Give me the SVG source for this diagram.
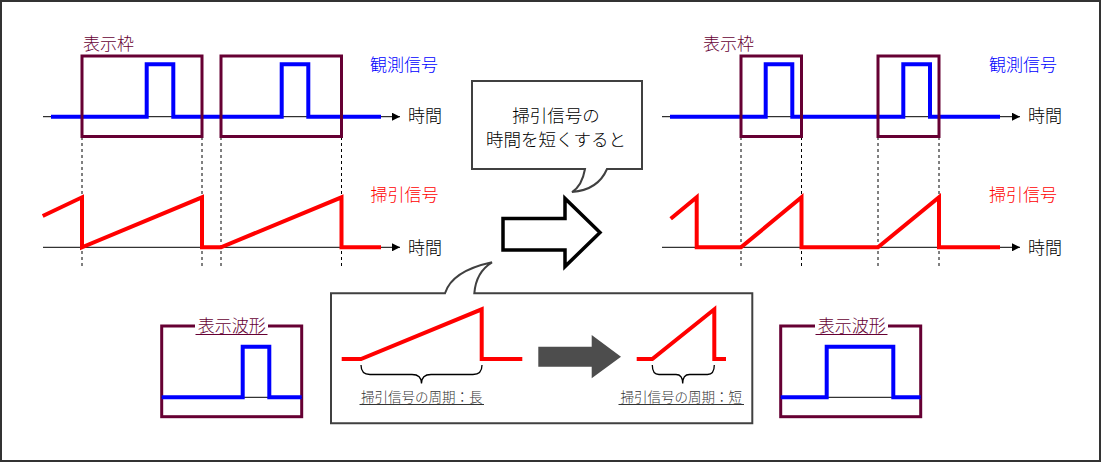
<svg xmlns="http://www.w3.org/2000/svg" width="1102" height="463" viewBox="0 0 1102 463">
<style>
text{font-family:"Noto Sans CJK JP","Noto Sans",sans-serif;font-weight:300;}
.lbl{font-size:17px;}
.maroon{fill:#660033;}
.blueT{fill:#0000ff;}
.redT{fill:#ff0000;}
.blk{fill:#000;}
.frame{fill:none;stroke:#660033;stroke-width:3;}
.sig{fill:none;stroke:#0000ff;stroke-width:4;stroke-linejoin:miter;}
.saw{fill:none;stroke:#ff0000;stroke-width:4;stroke-linejoin:miter;}
.axis{fill:none;stroke:#000;stroke-width:1;marker-end:url(#arr);}
.dash{stroke:#000;stroke-width:1;stroke-dasharray:3,3;}
.brace{fill:none;stroke:#000;stroke-width:1.3;}
.small{font-size:13.5px;fill:#333;}
</style>
<defs>
<marker id="arr" viewBox="0 0 10 10" refX="10" refY="5" markerWidth="8" markerHeight="8" markerUnits="userSpaceOnUse" orient="auto">
<path d="M0,0 L10,5 L0,10 Z" fill="#000"/>
</marker>
</defs>
<rect x="1" y="1" width="1099" height="460" fill="#fff" stroke="#333" stroke-width="2"/>

<g id="connectors">
<line class="dash" x1="82" y1="137" x2="82" y2="267"/>
<line class="dash" x1="202" y1="137" x2="202" y2="267"/>
<line class="dash" x1="221" y1="137" x2="221" y2="267"/>
<line class="dash" x1="341.5" y1="137" x2="341.5" y2="267"/>
<line class="dash" x1="741" y1="137" x2="741" y2="267"/>
<line class="dash" x1="801.5" y1="137" x2="801.5" y2="267"/>
<line class="dash" x1="878" y1="137" x2="878" y2="267"/>
<line class="dash" x1="939" y1="137" x2="939" y2="267"/>
</g>

<g id="left-observed">
<line class="axis" x1="43" y1="116.7" x2="400" y2="116.7"/>
<path class="sig" d="M51,116.7 H146.7 V64.3 H173.3 V116.7 H281.7 V64.3 H308.3 V116.7 H381"/>
<rect class="frame" x="82" y="56" width="120" height="80.5"/>
<rect class="frame" x="221" y="56" width="120.5" height="80.5"/>
<text class="lbl maroon" x="83" y="50">表示枠</text>
<text class="lbl blueT" x="370" y="70.7">観測信号</text>
<text class="lbl blk" x="408" y="122.3">時間</text>
</g>

<g id="left-sweep">
<line class="axis" x1="43" y1="247.3" x2="400" y2="247.3"/>
<path class="saw" d="M42.7,216 L82,197.3 V247.3 L202,197.3 V247.3 H221 L341.5,197.3 V247.3 H381"/>
<text class="lbl redT" x="370.5" y="201">掃引信号</text>
<text class="lbl blk" x="408" y="254">時間</text>
</g>

<g id="right-observed">
<line class="axis" x1="662" y1="116.7" x2="1020" y2="116.7"/>
<path class="sig" d="M670,116.7 H765.7 V64.3 H792.3 V116.7 H903.3 V64.3 H930 V116.7 H1000"/>
<rect class="frame" x="741" y="56" width="60.5" height="80.5"/>
<rect class="frame" x="878" y="56" width="61" height="80.5"/>
<text class="lbl maroon" x="703" y="50">表示枠</text>
<text class="lbl blueT" x="989" y="70.7">観測信号</text>
<text class="lbl blk" x="1028" y="122.3">時間</text>
</g>

<g id="right-sweep">
<line class="axis" x1="662" y1="247.3" x2="1020" y2="247.3"/>
<path class="saw" d="M670.7,218.7 L696.7,197.3 V247.3 H741 L801.5,197.3 V247.3 H878 L939,197.3 V247.3 H1000"/>
<text class="lbl redT" x="989" y="201">掃引信号</text>
<text class="lbl blk" x="1028" y="254">時間</text>
</g>

<g id="callout-top">
<path d="M472,81 H642 V169 H607 Q598,190 572,192 Q582,186 585,169 H472 Z" fill="#fff" stroke="#404040" stroke-width="2" stroke-linejoin="miter"/>
<text x="556" y="121.5" font-size="17.5" text-anchor="middle" fill="#000">掃引信号の</text>
<text x="556" y="145.5" font-size="17.5" text-anchor="middle" fill="#000">時間を短くすると</text>
</g>

<g id="big-arrow">
<polygon points="503,218.5 565,218.5 565,198.5 600,232.5 565,266.5 565,250 503,250" fill="#fff" stroke="#000" stroke-width="3.5" stroke-linejoin="miter"/>
</g>

<g id="callout-bottom">
<path d="M331,293.3 H445 Q452,271 492,262.3 Q476,272 474.3,293.3 H752.3 V423.3 H331 Z" fill="#fff" stroke="#404040" stroke-width="2" stroke-linejoin="miter"/>
<path class="saw" d="M341.7,359 H361 L481.7,309.3 V359 H522.3"/>
<path class="brace" d="M361,365 Q361,374.5 370,374.5 H412 Q421.5,374.5 421.5,383.5 Q421.5,374.5 431,374.5 H473 Q482,374.5 482,365"/>
<text class="small" x="421.7" y="401.6" text-anchor="middle">掃引信号の周期：長</text>
<line x1="359.5" y1="404.5" x2="484" y2="404.5" stroke="#333" stroke-width="1"/>
<polygon points="538.3,346.7 591.7,346.7 591.7,335 621,356.7 591.7,378.3 591.7,366.7 538.3,366.7" fill="#4d4d4d"/>
<path class="saw" d="M636.7,359 H652.3 L714.3,309.3 V359 H726"/>
<path class="brace" d="M652.3,365 Q652.3,374.5 659,374.5 H676 Q682.7,374.5 682.7,383.5 Q682.7,374.5 689.5,374.5 H707.5 Q714.3,374.5 714.3,365"/>
<text class="small" x="681.2" y="401.6" text-anchor="middle">掃引信号の周期：短</text>
<line x1="618.5" y1="404.5" x2="744" y2="404.5" stroke="#333" stroke-width="1"/>
</g>

<g id="display-left">
<rect class="frame" x="161.7" y="326" width="140" height="90.7"/>
<line x1="161.7" y1="397.3" x2="301.7" y2="397.3" stroke="#000" stroke-width="1"/>
<path class="sig" d="M161.7,397.3 H242.7 V346.7 H269.3 V397.3 H301.7"/>
<rect x="195" y="317" width="73" height="16" fill="#fff"/>
<text class="lbl maroon" x="231.7" y="332.3" text-anchor="middle">表示波形</text>
<line x1="195.5" y1="334.5" x2="267.5" y2="334.5" stroke="#660033" stroke-width="1"/>
</g>

<g id="display-right">
<rect class="frame" x="780.7" y="326" width="140" height="90.7"/>
<line x1="780.7" y1="397.3" x2="920.7" y2="397.3" stroke="#000" stroke-width="1"/>
<path class="sig" d="M780.7,397.3 H826.7 V346.7 H893.3 V397.3 H920.7"/>
<rect x="815" y="317" width="73" height="16" fill="#fff"/>
<text class="lbl maroon" x="851.7" y="332.3" text-anchor="middle">表示波形</text>
<line x1="815.5" y1="334.5" x2="887.5" y2="334.5" stroke="#660033" stroke-width="1"/>
</g>
</svg>
